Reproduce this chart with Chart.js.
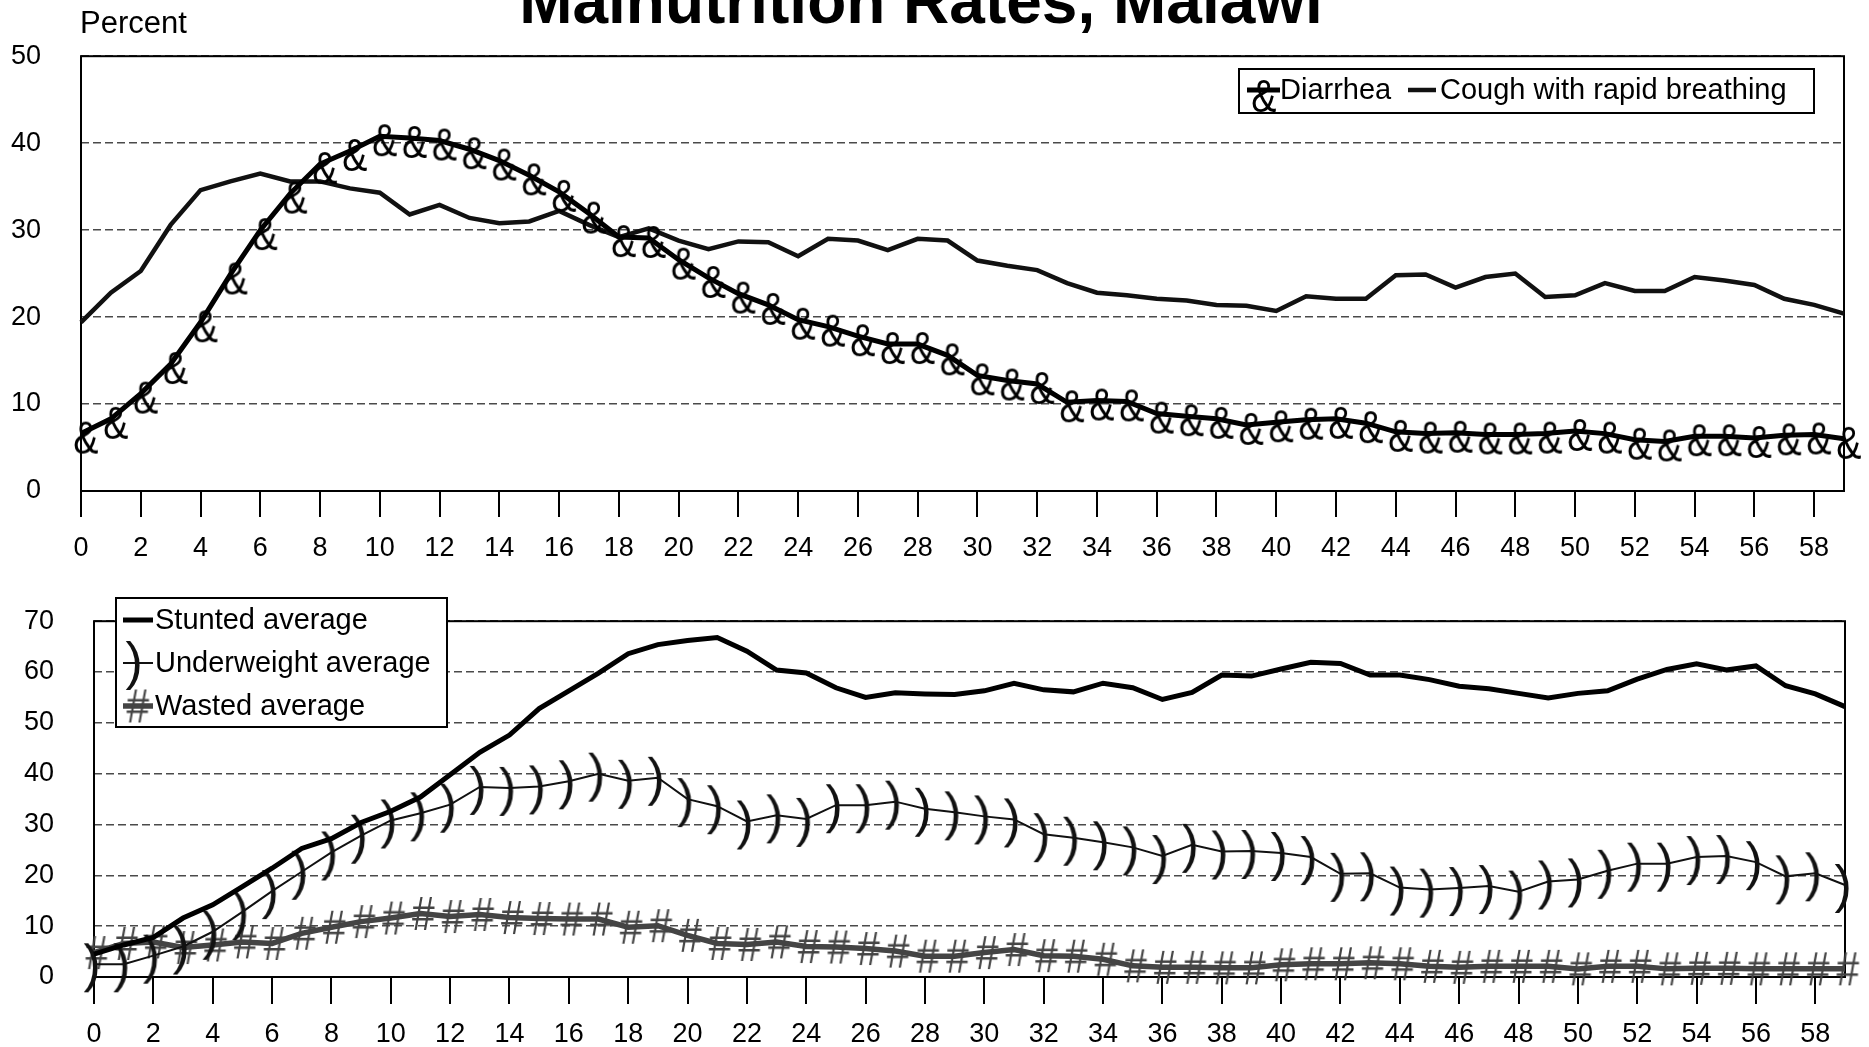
<!DOCTYPE html>
<html>
<head>
<meta charset="utf-8">
<script src="https://cdn.jsdelivr.net/npm/chart.js@4.4.1/dist/chart.umd.min.js"></script>
<style>
  body { margin: 0; background: #fff; }
  #wrap { position: relative; width: 1869px; height: 1047px; overflow: hidden; background: #fff; }
  canvas { position: absolute; left: 0; }
  #illness { top: 0; }
  #growth { top: 565px; }
</style>
</head>
<body>
<div id="wrap">
  <canvas id="illness" width="1869" height="565"></canvas>
  <canvas id="growth" width="1869" height="482"></canvas>
</div>
<script>
// age in months
const ages = [0,1,2,3,4,5,6,7,8,9,10,11,12,13,14,15,16,17,18,19,20,21,22,23,24,25,26,27,28,29,
              30,31,32,33,34,35,36,37,38,39,40,41,42,43,44,45,46,47,48,49,50,51,52,53,54,55,56,57,58,59];
const xTickLabels = ['0','2','4','6','8','10','12','14','16','18','20','22','24','26','28',
                     '30','32','34','36','38','40','42','44','46','48','50','52','54','56','58'];

const diarrhea = [6.6,8.3,11.2,14.6,19.4,24.9,30.0,34.2,37.6,39.1,40.8,40.6,40.3,39.3,38.0,36.3,34.4,31.9,29.2,29.1,
                  26.6,24.5,22.7,21.4,19.7,18.9,17.8,16.9,16.9,15.6,13.3,12.7,12.3,10.2,10.4,10.3,8.9,8.6,8.3,7.6,
                  7.9,8.2,8.3,7.8,6.8,6.6,6.7,6.5,6.5,6.6,6.9,6.6,5.9,5.7,6.3,6.3,6.1,6.4,6.5,6.0];
const cough = [19.4,22.8,25.3,30.6,34.6,35.6,36.5,35.6,35.6,34.8,34.3,31.8,32.9,31.4,30.8,31.0,32.2,30.6,29.2,30.2,
               28.8,27.8,28.7,28.6,27.0,29.0,28.8,27.7,29.0,28.8,26.5,25.9,25.4,23.9,22.8,22.5,22.1,21.9,21.4,21.3,
               20.7,22.4,22.1,22.1,24.8,24.9,23.4,24.6,25.0,22.3,22.5,23.9,23.0,23.0,24.6,24.2,23.7,22.1,21.4,20.4];

const stunted = [4.5,6.3,7.8,11.6,14.2,17.8,21.4,25.3,27.2,30.4,32.6,35.4,39.8,44.2,47.6,52.8,56.3,59.8,63.6,65.4,
                 66.2,66.8,64.1,60.4,59.8,56.9,55.0,55.9,55.7,55.6,56.3,57.8,56.5,56.1,57.8,56.9,54.6,56.0,59.4,59.2,
                 60.6,61.9,61.7,59.4,59.4,58.5,57.2,56.7,55.8,54.9,55.8,56.3,58.6,60.5,61.6,60.4,61.2,57.3,55.7,53.2];
const underweight = [2.5,2.5,4.2,6.0,8.9,12.8,16.9,20.7,24.5,27.8,30.8,32.2,33.9,37.4,37.2,37.5,38.5,40.0,38.6,39.2,
                     35.0,33.6,30.6,31.8,31.1,33.8,33.8,34.5,33.1,32.4,31.6,31.0,28.1,27.4,26.5,25.5,23.8,26.0,24.7,24.8,
                     24.4,23.6,20.3,20.4,17.6,17.2,17.5,17.9,16.8,18.8,19.2,20.9,22.3,22.3,23.6,23.8,22.6,19.8,20.4,18.1];
const wasted = [4.8,6.6,6.9,5.8,6.3,6.9,6.6,8.6,9.8,10.9,11.6,12.5,11.9,12.3,11.7,11.5,11.4,11.4,9.8,10.1,
                8.2,6.6,6.4,6.9,6.0,5.9,5.6,5.1,4.1,4.1,4.8,5.4,4.2,4.1,3.5,2.2,1.9,1.9,1.8,1.8,
                2.4,2.6,2.6,2.8,2.6,2.1,1.9,2.1,2.1,2.1,1.6,2.1,2.1,1.6,1.7,1.7,1.6,1.6,1.6,1.6];

const FONT = '"Liberation Sans", Arial, sans-serif';
Chart.defaults.font.family = FONT;
Chart.defaults.color = '#000';

// text glyph used as a point marker, ink centre shifted by dx, dy from the point,
// squeezed sideways by sx
function glyph(ch, size, color, dx, dy, sx) {
  const c = document.createElement('canvas');
  c.width = Math.ceil(size * 1.6 + 2 * Math.abs(dx));
  c.height = Math.ceil(size * 1.6 + 2 * Math.abs(dy));
  const g = c.getContext('2d');
  g.font = size + 'px ' + FONT;
  g.fillStyle = color;
  const m = g.measureText(ch);
  const w = m.actualBoundingBoxLeft + m.actualBoundingBoxRight;
  const h = m.actualBoundingBoxAscent + m.actualBoundingBoxDescent;
  g.translate(c.width / 2 + dx, c.height / 2 + dy);
  g.scale(sx, 1);
  g.fillText(ch, -w / 2 + m.actualBoundingBoxLeft, -h / 2 + m.actualBoundingBoxAscent);
  return c;
}

const amp = glyph('&', 46, '#000', 5, 4, 0.82);
const paren = glyph(')', 52, '#111', -3, 3, 1);
const hash = glyph('#', 48, '#444', 3, 0, 0.85);

const frame = {
  id: 'frame',
  beforeDatasetsDraw(chart) {
    const { ctx, chartArea: a } = chart;
    ctx.save();
    ctx.strokeStyle = '#000';
    ctx.lineWidth = 2;
    ctx.strokeRect(a.left, a.top, a.right - a.left, a.bottom - a.top);
    ctx.restore();
  }
};

const glyphLegend = {
  id: 'glyphLegend',
  afterDraw(chart, args, opts) {
    if (!opts.box) return;
    const ctx = chart.ctx;
    const [bx, by, bw, bh] = opts.box;
    ctx.save();
    ctx.fillStyle = '#fff';
    ctx.fillRect(bx, by, bw, bh);
    ctx.strokeStyle = '#000';
    ctx.lineWidth = 2;
    ctx.strokeRect(bx, by, bw, bh);
    opts.items.forEach((it, i) => {
      const ds = chart.data.datasets[i];
      ctx.strokeStyle = ds.borderColor;
      ctx.lineWidth = ds.borderWidth;
      ctx.beginPath();
      ctx.moveTo(it.x0, it.y);
      ctx.lineTo(it.x1, it.y);
      ctx.stroke();
      if (it.marker) {
        const mk = it.marker;
        ctx.drawImage(mk, it.mx - mk.width / 2, it.my - mk.height / 2);
      }
      ctx.fillStyle = '#000';
      ctx.font = '29px ' + FONT;
      ctx.textBaseline = 'middle';
      ctx.textAlign = 'left';
      ctx.fillText(ds.label, it.tx, it.ty);
    });
    ctx.restore();
  }
};

const headings = {
  id: 'headings',
  afterDraw(chart) {
    const ctx = chart.ctx;
    ctx.save();
    ctx.fillStyle = '#000';
    ctx.textBaseline = 'alphabetic';
    ctx.font = 'bold 64px ' + FONT;
    ctx.textAlign = 'center';
    ctx.fillText('Malnutrition Rates, Malawi', 921, 23);
    ctx.font = '31px ' + FONT;
    ctx.textAlign = 'left';
    ctx.fillText('Percent', 80, 33);
    ctx.restore();
  }
};

function xAxis(tickLen, pad, height) {
  return {
    type: 'category',
    offset: false,
    border: { display: false },
    grid: { display: true, drawOnChartArea: false, drawTicks: true, tickLength: tickLen, color: '#000', lineWidth: 2 },
    ticks: {
      autoSkip: false, maxRotation: 0, minRotation: 0, padding: pad,
      font: { size: 27 }, color: '#000',
      callback: function (v) {
        const lab = String(this.getLabelForValue(v));
        return xTickLabels.includes(lab) ? lab : null;
      }
    },
    afterFit: s => { s.height = height; }
  };
}

function yAxis(max, width) {
  return {
    min: 0, max: max,
    border: { display: false, dash: [8, 4] },
    grid: { color: '#4a4a4a', lineWidth: 1.5, drawTicks: false },
    ticks: { stepSize: 10, padding: 40, font: { size: 27 }, color: '#000' },
    afterFit: s => { s.width = width; }
  };
}

new Chart(document.getElementById('illness'), {
  type: 'line',
  data: {
    labels: ages,
    datasets: [
      { label: 'Diarrhea', data: diarrhea, borderColor: '#000', borderWidth: 5,
        pointStyle: amp, pointRadius: 3, tension: 0, clip: false },
      { label: 'Cough with rapid breathing', data: cough, borderColor: '#111', borderWidth: 4.5,
        pointRadius: 0, tension: 0 }
    ]
  },
  options: {
    responsive: false,
    animation: false,
    events: [],
    layout: { padding: { top: 52, right: 25, left: 0, bottom: 0 } },
    plugins: {
      legend: { display: false },
      tooltip: { enabled: false },
      glyphLegend: {
        box: [1239, 69, 575, 44],
        items: [
          { x0: 1247, x1: 1280, y: 90, marker: glyph('&', 46, '#000', 0, 0, 0.82), mx: 1264, my: 96, tx: 1280, ty: 91 },
          { x0: 1408, x1: 1436, y: 90, tx: 1440, ty: 91 }
        ]
      }
    },
    scales: { x: xAxis(26, 15, 74), y: yAxis(50, 81) }
  },
  plugins: [frame, glyphLegend, headings]
});

new Chart(document.getElementById('growth'), {
  type: 'line',
  data: {
    labels: ages,
    datasets: [
      { label: 'Stunted average', data: stunted, borderColor: '#000', borderWidth: 5,
        pointRadius: 0, tension: 0 },
      { label: 'Underweight average', data: underweight, borderColor: '#111', borderWidth: 2,
        pointStyle: paren, pointRadius: 3, tension: 0, clip: false },
      { label: 'Wasted average', data: wasted, borderColor: '#444', borderWidth: 5.5,
        pointStyle: hash, pointRadius: 3, tension: 0, clip: false }
    ]
  },
  options: {
    responsive: false,
    animation: false,
    events: [],
    layout: { padding: { top: 17, right: 24, left: 0, bottom: 0 } },
    plugins: {
      legend: { display: false },
      tooltip: { enabled: false },
      glyphLegend: {
        box: [116, 33, 331, 129],
        items: [
          { x0: 123, x1: 153, y: 55, tx: 155, ty: 56 },
          { x0: 123, x1: 153, y: 98, marker: glyph(')', 52, '#111', 0, 0, 1), mx: 133, my: 100, tx: 155, ty: 99 },
          { x0: 123, x1: 153, y: 141, marker: glyph('#', 48, '#444', 0, 0, 0.85), mx: 138, my: 141, tx: 155, ty: 142 }
        ]
      }
    },
    scales: { x: xAxis(27, 14, 70), y: yAxis(70, 94) }
  },
  plugins: [frame, glyphLegend]
});
</script>
</body>
</html>
